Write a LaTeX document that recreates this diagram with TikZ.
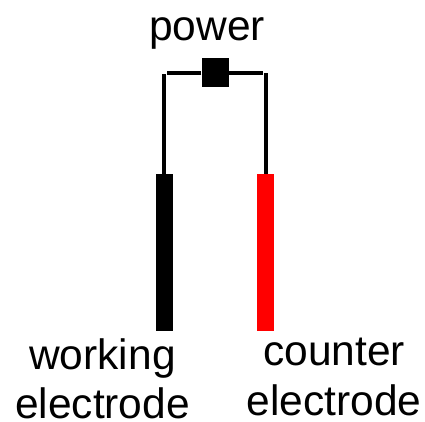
\documentclass[tikz,border=0pt]{standalone}
\usepackage{fontspec}
\setmainfont{Liberation Sans}
\begin{document}
\begin{tikzpicture}[x=1pt,y=-1pt,
	wire/.style={line width=4pt},
	rod/.style={minimum width=17pt, minimum height=157.5pt, inner sep=0pt, anchor=north},
	caption/.style={font=\fontsize{42.5}{42.5}\selectfont, inner sep=0pt, anchor=base}]
	\useasboundingbox (0,0) rectangle (425,421);

	% Power supply
	\node[fill=black, minimum width=27pt, minimum height=28.5pt, inner sep=0pt] (supply) at (215,72.5) {};
	\node[caption] (power) at (207,40) {power};

	% Electrodes
	\node[rod, fill=black] (working) at (164.5,173.5) {};
	\node[rod, fill=red] (counter) at (265.5,173.5) {};

	% Wires, they do not quite meet at the corners
	\coordinate (wireleft) at (167,72.5);
	\coordinate (wireright) at (263,72.5);
	\coordinate (topleft) at (164,74);
	\coordinate (topright) at (266,73);
	\draw[wire] (supply) -- (wireleft);
	\draw[wire] (supply) -- (wireright);
	\draw[wire] (topleft) -- (topleft |- working.north);
	\draw[wire] (topright) -- (topright |- counter.north);

	% Labels
	\node[caption] (workinglabel) at (102.5,369) {working};
	\node[caption] (workingsub) at (102.5,418) {electrode};
	\node[caption] (counterlabel) at (334,365) {counter};
	\node[caption] (countersub) at (334,415) {electrode};
\end{tikzpicture}
\end{document}
